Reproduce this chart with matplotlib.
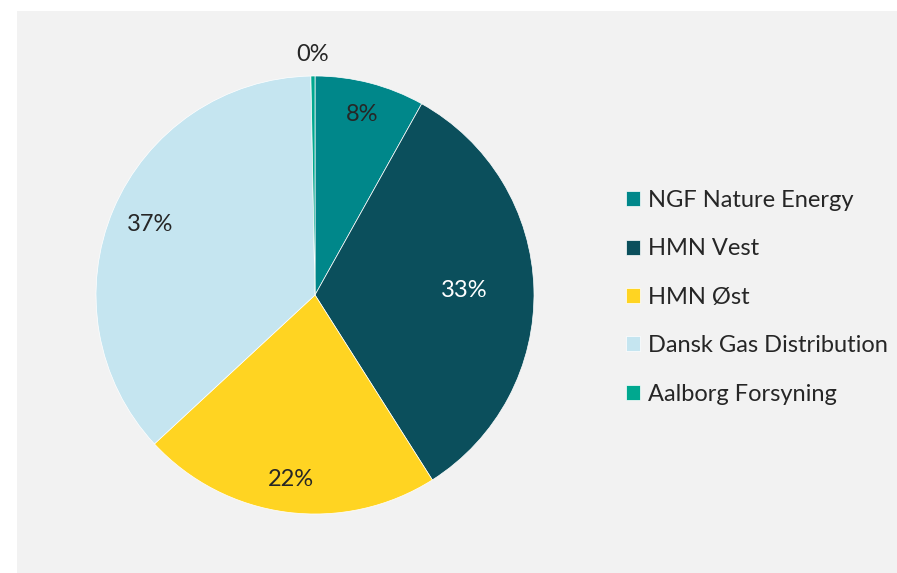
import matplotlib
matplotlib.use("Agg")
import numpy as np
from matplotlib import pyplot as plt
from matplotlib.patches import Rectangle

plt.rcParams['font.family'] = ['Lato', 'DejaVu Sans']

# data (share of total)
COMPANIES = ['NGF Nature Energy', 'HMN Vest', 'HMN Øst', 'Dansk Gas Distribution', 'Aalborg Forsyning']
SHARES = [8.1, 32.9, 22.1, 36.6, 0.3]
COLORS = ['#00878a', '#0b4f5c', '#ffd422', '#c5e5f0', '#00a88f']
LABEL_COLORS = ['#262626', 'white', '#262626', '#262626', '#262626']
LABEL_DIST = [0.85, 0.68, 0.85, 0.82, 1.10]

W, H = 897, 573

if __name__ == "__main__":
    fig = plt.figure(figsize=(W / 100, H / 100), dpi=100)
    fig.patch.set_facecolor('white')
    fig.patches.append(Rectangle((17 / W, 0), 1 - 17 / W, 1 - 11 / H, transform=fig.transFigure,
                                 facecolor='#f2f2f2', edgecolor='none', zorder=-10))

    cx, cy, r = 315, 295, 219
    ax = fig.add_axes([(cx - r) / W, (H - cy - r) / H, 2 * r / W, 2 * r / H])
    ax.set_facecolor('none')
    wedges, _ = ax.pie(SHARES, colors=COLORS, startangle=90, counterclock=False, radius=1,
                       wedgeprops=dict(edgecolor='white', linewidth=0.5))
    ax.set_xlim(-1, 1)
    ax.set_ylim(-1, 1)
    ax.set_aspect('equal')
    ax.axis('off')

    total = sum(SHARES)
    for w, s, c, d in zip(wedges, SHARES, LABEL_COLORS, LABEL_DIST):
        mid = np.deg2rad((w.theta1 + w.theta2) / 2)
        ax.text(d * np.cos(mid), d * np.sin(mid), '{:.0f}%'.format(s / total * 100),
                ha='center', va='center', fontsize=17, color=c)

    fig.legend(wedges, COMPANIES, loc='upper left', bbox_to_anchor=(626 / W, 1 - 190 / H),
               frameon=False, fontsize=17, handlelength=0.6, handleheight=0.6,
               handletextpad=0.34, labelspacing=1.16, borderpad=0, borderaxespad=0,
               labelcolor='#262626')

    plt.savefig('out.png', dpi=100, facecolor='white')
